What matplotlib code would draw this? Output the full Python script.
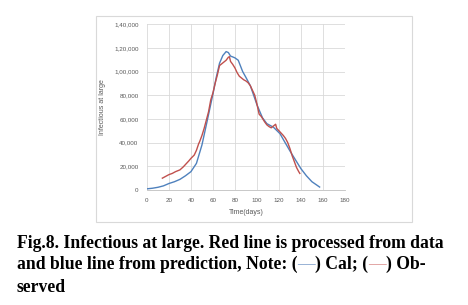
import matplotlib
matplotlib.use("Agg")
import matplotlib.pyplot as plt
from matplotlib.patches import Rectangle

# predicted (Cal) curve
days_cal = [0, 5, 10, 15, 20, 25, 30, 35, 40, 45, 50, 54, 57, 60, 63, 66, 69, 72, 74, 76,
            78, 80, 83, 87, 90, 94, 100, 105, 109, 115, 121, 125, 130, 135, 140, 145, 150, 155, 157]
cal = [1000, 1500, 2300, 3500, 5500, 7000, 9000, 12000, 15500, 22500, 38000, 55000, 68000,
       81000, 95000, 107000, 113500, 116800, 116000, 113000, 112300, 111500, 109500, 100000,
       95000, 88000, 72000, 61000, 56000, 53000, 47500, 41000, 33000, 25500, 18000, 12000,
       7000, 3800, 2500]

# observed curve
days_obs = [14, 17, 20, 23, 26, 30, 33, 36, 38, 40, 43, 45, 47, 48, 50, 52, 54, 56, 58, 60,
            62, 64, 66, 68, 70, 72, 74, 75, 76, 78, 80, 82, 84, 86, 88, 90, 92, 94, 96, 98,
            100, 102, 104, 105, 107, 109, 111, 113, 115, 117, 118, 120, 122, 124, 126, 128,
            130, 132, 134, 136, 138, 139]
obs = [10000, 11500, 13000, 14000, 15500, 17000, 19500, 22500, 24500, 26700, 29500, 33500,
       39000, 41000, 46000, 52000, 59000, 66000, 76000, 82000, 90000, 97000, 105000, 106500,
       108000, 109500, 112000, 112500, 108500, 106000, 103000, 99000, 96000, 94500, 93000,
       92000, 90500, 88000, 84000, 80000, 72500, 64000, 62000, 60500, 57500, 55000, 53500,
       52500, 54000, 55500, 52000, 50000, 48000, 46000, 43500, 40000, 35000, 29000, 24000,
       19000, 15500, 14000]

x_ticks = [0, 20, 40, 60, 80, 100, 120, 140, 160, 180]
y_ticks = [0, 20000, 40000, 60000, 80000, 100000, 120000, 140000]
y_tick_labels = ["0", "20,000", "40,000", "60,000", "80,000", "1,00,000", "1,20,000", "1,40,000"]

grey = "#595959"

fig = plt.figure(figsize=(4.68, 3.05), dpi=100)
ax = fig.add_axes([0.314, 0.377, 0.423, 0.544])

ax.plot(days_cal, cal, color="#4F81BD", lw=1.0)
ax.plot(days_obs, obs, color="#C0504D", lw=1.0)

ax.set_xlim(0, 180)
ax.set_ylim(0, 140000)
ax.set_xticks(x_ticks)
ax.set_yticks(y_ticks)
ax.set_yticklabels(y_tick_labels)
ax.grid(True, color="#d9d9d9", lw=0.6)
ax.set_axisbelow(True)
for s in ["top", "right", "left"]:
    ax.spines[s].set_visible(False)
ax.spines["bottom"].set_color("#bfbfbf")
ax.spines["bottom"].set_linewidth(0.6)
ax.tick_params(length=0, labelsize=4.5, labelcolor=grey, pad=6)
for lab in ax.get_xticklabels() + ax.get_yticklabels():
    lab.set_fontfamily("Liberation Sans")
ax.set_xlabel("Time(days)", fontsize=5, color=grey, family="Liberation Sans", labelpad=4)
ax.set_ylabel("Infectious at large", fontsize=5, color=grey, family="Liberation Sans", labelpad=6)

# chart border like the Excel chart area
fig.add_artist(Rectangle((0.205, 0.272), 0.675, 0.676, transform=fig.transFigure,
                         fill=False, edgecolor="#d9d9d9", lw=0.8))

# caption
cap = dict(fontsize=12.7, fontweight="bold", family="Liberation Serif", color="black")
fig.text(0.036, 0.187, "Fig.8. Infectious at large. Red line is processed from data",
         va="baseline", ha="left", **cap)
t = fig.text(0.036, 0.118, "and blue line from prediction, Note: (", va="baseline", ha="left", **cap)
pieces = [("\u2014", "#7a9cc9"), (") Cal; (", "black"), ("\u2014", "#d98c8a"), (") Ob-", "black")]
for s, c in pieces:
    kw = dict(cap)
    kw["color"] = c
    if c != "black":
        kw["fontweight"] = "normal"
    t = ax.annotate(s, xy=(1, 0), xycoords=t, va="bottom", ha="left",
                    annotation_clip=False, **kw)
fig.text(0.036, 0.043, "served", va="baseline", ha="left", **cap)

fig.savefig("out.png", dpi=100)
